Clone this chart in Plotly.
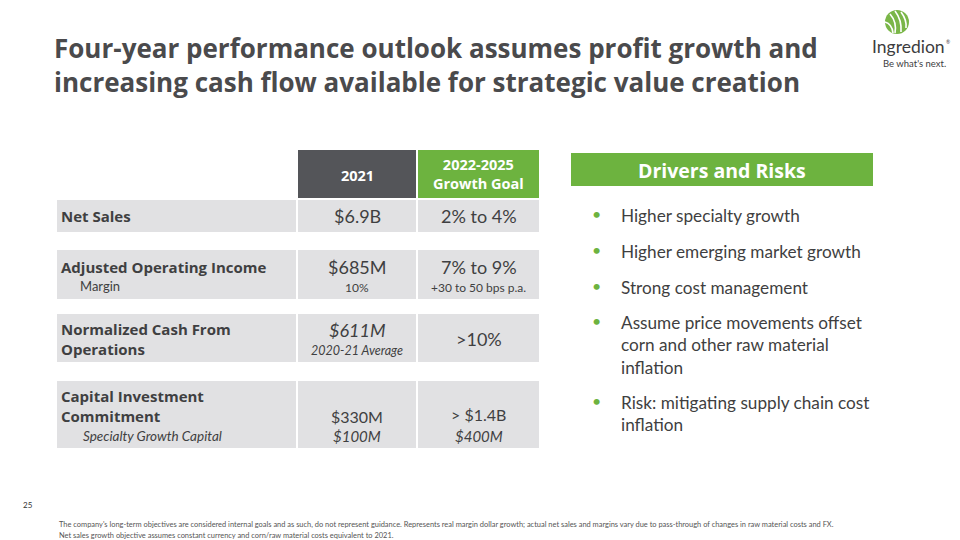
import plotly.graph_objects as go

# ---------------- data ----------------
title_lines = ["Four-year performance outlook assumes profit growth and",
               "increasing cash flow available for strategic value creation"]
col_headers = ["2021", "2022-2025<br>Growth Goal"]
row_labels = ["Net Sales", "Adjusted Operating Income",
              "Normalized Cash From<br>Operations", "Capital Investment<br>Commitment"]
row_sublabels = ["", "Margin", "", "Specialty Growth Capital"]
val_2021 = ["$6.9B", "$685M", "<i>$611M</i>", "$330M"]
sub_2021 = ["", "10%", "<i>2020-21 Average</i>", "<i>$100M</i>"]
val_goal = ["2% to 4%", "7% to 9%", ">10%", "> $1.4B"]
sub_goal = ["", "+30 to 50 bps p.a.", "", "<i>$400M</i>"]
drivers_title = "Drivers and Risks"
drivers = ["Higher specialty growth",
           "Higher emerging market growth",
           "Strong cost management",
           "Assume price movements offset<br>corn and other raw material<br>inflation",
           "Risk: mitigating supply chain cost<br>inflation"]
page_no = "25"
footnotes = ["The company's long-term objectives are considered internal goals and as such, do not represent guidance. Represents real margin dollar growth; actual net sales and margins vary due to pass-through of changes in raw material costs and FX.",
             "Net sales growth objective assumes constant currency and corn/raw material costs equivalent to 2021."]

# ---------------- layout / style ----------------
FONT = "Lato"
BFONT = "Open Sans"
TXT = "#3f3f41"
GREEN = "#6db33f"
DARK = "#545559"
GRAY = "#e1e1e3"

col_x = [(57, 296), (298, 416), (418, 539)]
header_y = (150, 198)
row_y = [(200, 232), (250, 299), (314, 362), (381, 448)]

shapes = []
ann = []

def rect(x0, x1, y0, y1, color):
    shapes.append(dict(type="rect", xref="x", yref="y", x0=x0, x1=x1, y0=y0, y1=y1,
                       fillcolor=color, line=dict(width=0), layer="below"))

def text(x, y, t, size, color=TXT, xa="left", bold=False, ya="middle", family=FONT):
    if bold:
        t = "<b>" + t.replace("<br>", "</b><br><b>") + "</b>"
        family = BFONT
    ann.append(dict(x=x, y=y, xref="x", yref="y", text=t, showarrow=False,
                    xanchor=xa, yanchor=ya, align=xa if xa != "center" else "center",
                    font=dict(family=family, size=size, color=color)))

# title
text(52, 65, "<br>".join(title_lines), 26, color="#4a4a4c", bold=True)

# header cells
rect(*col_x[1], *header_y, DARK)
rect(*col_x[2], *header_y, GREEN)
text(sum(col_x[1]) / 2, 175, col_headers[0], 14.5, color="white", xa="center", bold=True)
text(sum(col_x[2]) / 2, 174, col_headers[1], 14.5, color="white", xa="center", bold=True)

# rows
for i, (y0, y1) in enumerate(row_y):
    for (x0, x1) in col_x:
        rect(x0, x1, y0, y1, GRAY)
    cx1 = sum(col_x[1]) / 2
    cx2 = sum(col_x[2]) / 2
    if i == 0:
        text(59, 216, row_labels[i], 15, bold=True)
        text(cx1, 216, val_2021[i], 18, xa="center")
        text(cx2, 216, val_goal[i], 18, xa="center")
    elif i == 1:
        text(59, 267, row_labels[i], 15, bold=True)
        text(78, 286, row_sublabels[i], 13)
        text(cx1, 267, val_2021[i], 18, xa="center")
        text(cx1, 287, sub_2021[i], 12, xa="center")
        text(cx2, 267, val_goal[i], 18, xa="center")
        text(cx2, 287, sub_goal[i], 12, xa="center")
    elif i == 2:
        text(59, 339, row_labels[i], 15, bold=True)
        text(cx1, 330, val_2021[i], 18, xa="center")
        text(cx1, 350, sub_2021[i], 12.5, xa="center")
        text(cx2, 339, val_goal[i], 18, xa="center")
    else:
        text(59, 406, row_labels[i], 15, bold=True)
        text(81, 436, "<i>" + row_sublabels[i] + "</i>", 13.5)
        text(cx1, 416, val_2021[i], 16, xa="center")
        text(cx1, 436, sub_2021[i], 15, xa="center")
        text(cx2, 414, val_goal[i], 16, xa="center")
        text(cx2, 436, sub_goal[i], 15, xa="center")

# drivers box
rect(571, 873, 153, 186, GREEN)
text(722, 170, drivers_title, 19.5, color="white", xa="center", bold=True)
bullet_y = [216, 252, 288, 323, 403]
for yy, d in zip(bullet_y, drivers):
    text(596, yy - 3, "•", 16, color=GREEN, xa="center")
    text(619, yy - 13, d, 17.2, ya="top")

# logo
shapes.append(dict(type="circle", xref="x", yref="y", x0=885, x1=909, y0=10, y1=34,
                   fillcolor="#7ab648", line=dict(width=0)))
for p in ["M 890 14 Q 897 22 895 33", "M 895 11 Q 902 20 901 32", "M 901 12 Q 907 20 906 28",
          "M 885 22 Q 892 24 893 33"]:
    shapes.append(dict(type="path", xref="x", yref="y", path=p,
                       line=dict(color="white", width=1.6)))
text(870, 46, "Ingredion", 17.5, color="#3c3c3e")
text(944, 42, "®", 5, color="#3c3c3e")
text(881, 63, "Be what's next.", 9.5, color="#3c3c3e")

# page number & footnotes
text(21, 505, page_no, 8, color="#333333")
text(57, 524, footnotes[0], 7.45, color="#555555")
text(57, 535, footnotes[1], 7.45, color="#555555")

fig = go.Figure()
fig.update_layout(
    width=960, height=540, margin=dict(l=0, r=0, t=0, b=0),
    paper_bgcolor="white", plot_bgcolor="white",
    xaxis=dict(range=[0, 960], visible=False, fixedrange=True),
    yaxis=dict(range=[540, 0], visible=False, fixedrange=True),
    shapes=shapes, annotations=ann, showlegend=False,
)
fig.write_html("out.html", config={"displayModeBar": False},
               post_script="document.body.style.margin='0';document.body.style.overflow='hidden';")
